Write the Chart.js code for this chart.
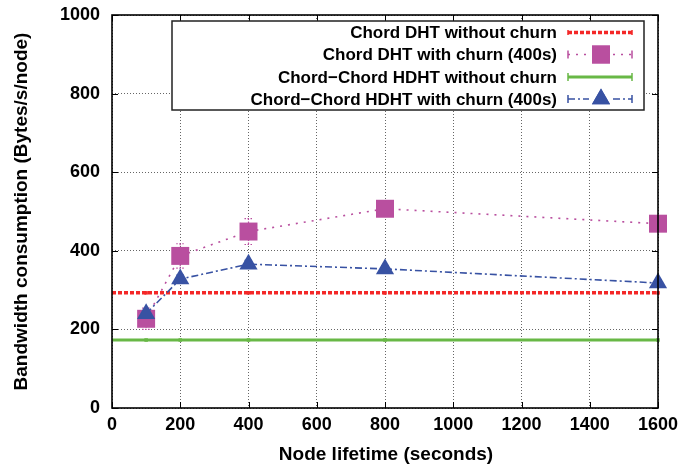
<!DOCTYPE html>
<html>
<head>
<meta charset="utf-8">
<script src="https://cdn.jsdelivr.net/npm/chart.js@4.4.0/dist/chart.umd.min.js"></script>
<style>
  html, body { margin: 0; padding: 0; background: #fff; }
  #wrap { width: 694px; height: 471px; }
</style>
</head>
<body>
<div id="wrap"><canvas id="c" width="694" height="471"></canvas></div>
<script>
// Node lifetimes (seconds) at which the simulations were run
const lifetimes = [100, 200, 400, 800, 1600];
// Steady-state consumption without churn (constant over lifetime)
const chordNoChurn = 293;
const hdhtNoChurn = 173;
// Consumption with churn, and the half-width of each error bar
const chordChurn = [227, 387, 449, 507, 469];
const chordChurnErr = [27, 31, 33, 12, 12];
const hdhtChurn = [240, 328, 366, 354, 318];
const hdhtChurnErr = [8, 10, 10, 8, 8];
// Axis ticks
const xTicks = [0, 200, 400, 600, 800, 1000, 1200, 1400, 1600];
const yTicks = [0, 200, 400, 600, 800, 1000];

const labelsText = [
  'Chord DHT without churn',
  'Chord DHT with churn (400s)',
  'Chord\u2212Chord HDHT without churn',
  'Chord\u2212Chord HDHT with churn (400s)'
];

const FONT = 'Liberation Sans, Arial, sans-serif';
const RED = '#f42828', MAG = '#b94f9f', GRN = '#68b846', BLU = '#3852a3';

// flat lines run from the y axis across every lifetime
const flatX = [0].concat(lifetimes);
const flat = v => flatX.map(x => ({ x: x, y: v }));
const flatRadius = flatX.map(x => (x === 0 ? 0 : 2.5));

const datasets = [
  {
    label: labelsText[3], order: 0, clip: false,
    data: lifetimes.map((x, i) => ({ x: x, y: hdhtChurn[i] })),
    err: hdhtChurnErr,
    borderColor: BLU, backgroundColor: BLU, borderWidth: 1.6,
    borderDash: [7, 3, 2, 3],
    pointStyle: 'triangle', pointRadius: 10.5, pointBorderWidth: 0,
    legendMarker: true, legendCaps: true
  },
  {
    label: labelsText[1], order: 1, clip: false,
    data: lifetimes.map((x, i) => ({ x: x, y: chordChurn[i] })),
    err: chordChurnErr,
    borderColor: MAG, backgroundColor: MAG, borderWidth: 1.6,
    borderDash: [2, 6],
    pointStyle: 'rect', pointRadius: 12.7, pointBorderWidth: 0,
    legendMarker: true, legendCaps: true
  },
  {
    label: labelsText[0], order: 2, clip: false,
    data: flat(chordNoChurn),
    borderColor: RED, backgroundColor: RED, borderWidth: 3.5,
    borderDash: [4, 2],
    pointStyle: 'rect', pointRadius: flatRadius, pointBorderWidth: 0,
    legendMarker: false, legendCaps: false
  },
  {
    label: labelsText[2], order: 3, clip: false,
    data: flat(hdhtNoChurn),
    borderColor: GRN, backgroundColor: GRN, borderWidth: 3,
    borderDash: [],
    pointStyle: 'rect', pointRadius: flatRadius, pointBorderWidth: 0,
    legendMarker: false, legendCaps: true
  }
];

// gnuplot-style frame, inward ticks, error bars, key and axis titles
const framePlugin = {
  id: 'frame',
  beforeDatasetsDraw(chart) {
    const ctx = chart.ctx, xs = chart.scales.x, ys = chart.scales.y;
    ctx.save();
    chart.data.datasets.forEach(ds => {
      if (!ds.err) return;
      ctx.strokeStyle = ds.borderColor;
      ctx.lineWidth = 1.2;
      ctx.setLineDash([1.5, 1.5]);
      ds.data.forEach((p, i) => {
        const px = xs.getPixelForValue(p.x);
        const top = ys.getPixelForValue(p.y + ds.err[i]);
        const bot = ys.getPixelForValue(p.y - ds.err[i]);
        ctx.beginPath();
        ctx.moveTo(px, top); ctx.lineTo(px, bot);
        ctx.moveTo(px - 4, top); ctx.lineTo(px + 4, top);
        ctx.moveTo(px - 4, bot); ctx.lineTo(px + 4, bot);
        ctx.stroke();
      });
    });
    ctx.restore();
  },
  afterDraw(chart) {
    const ctx = chart.ctx, a = chart.chartArea;
    const xs = chart.scales.x, ys = chart.scales.y;
    ctx.save();
    ctx.setLineDash([]);
    ctx.strokeStyle = '#000';
    ctx.lineWidth = 1;
    ctx.beginPath();
    xTicks.forEach(v => {
      const px = Math.round(xs.getPixelForValue(v)) + 0.5;
      ctx.moveTo(px, a.bottom); ctx.lineTo(px, a.bottom - 6);
      ctx.moveTo(px, a.top); ctx.lineTo(px, a.top + 6);
    });
    yTicks.forEach(v => {
      const py = Math.round(ys.getPixelForValue(v)) + 0.5;
      ctx.moveTo(a.left, py); ctx.lineTo(a.left + 6, py);
      ctx.moveTo(a.right, py); ctx.lineTo(a.right - 6, py);
    });
    ctx.stroke();
    ctx.lineWidth = 1.6;
    ctx.strokeRect(a.left, a.top, a.right - a.left, a.bottom - a.top);

    // key box
    const kx = 172, ky = 21, kw = 472, kh = 89;
    ctx.fillStyle = '#fff';
    ctx.fillRect(kx, ky, kw, kh);
    ctx.lineWidth = 1.5;
    ctx.strokeStyle = '#222';
    ctx.strokeRect(kx, ky, kw, kh);
    const rows = [32.5, 54.5, 77, 99];
    const order = [2, 1, 3, 0];
    ctx.font = 'bold 17px ' + FONT;
    ctx.textAlign = 'right';
    ctx.textBaseline = 'middle';
    const x0 = 568, x1 = 632, xm = 601;
    order.forEach((di, r) => {
      const ds = chart.data.datasets[di];
      const y = rows[r];
      ctx.fillStyle = '#000';
      ctx.fillText(ds.label, 557, y + 1);
      ctx.strokeStyle = ds.borderColor;
      ctx.lineWidth = ds.borderWidth;
      ctx.setLineDash(ds.borderDash);
      ctx.beginPath();
      if (ds.legendMarker) {
        ctx.moveTo(x0, y); ctx.lineTo(xm - 12, y);
        ctx.moveTo(xm + 12, y); ctx.lineTo(x1, y);
      } else {
        ctx.moveTo(x0, y); ctx.lineTo(x1, y);
      }
      ctx.stroke();
      ctx.setLineDash([]);
      ctx.lineWidth = 1.5;
      ctx.beginPath();
      if (ds.legendCaps) {
        ctx.moveTo(x0, y - 4); ctx.lineTo(x0, y + 4);
        ctx.moveTo(x1, y - 4); ctx.lineTo(x1, y + 4);
      } else {
        ctx.moveTo(x0, y - 2.5); ctx.lineTo(x0, y + 2.5);
        ctx.moveTo(x1, y - 2.5); ctx.lineTo(x1, y + 2.5);
      }
      ctx.stroke();
      if (ds.legendMarker) {
        ctx.fillStyle = ds.backgroundColor;
        Chart.helpers.drawPoint(ctx, {
          pointStyle: ds.pointStyle, radius: ds.pointRadius,
          rotation: 0, borderWidth: 0
        }, xm, y);
        ctx.fill();
      }
    });

    // axis titles
    ctx.fillStyle = '#000';
    ctx.font = 'bold 19px ' + FONT;
    ctx.textAlign = 'center';
    ctx.textBaseline = 'middle';
    ctx.fillText('Node lifetime (seconds)', (a.left + a.right) / 2 + 1, 455);
    ctx.save();
    ctx.translate(22, (a.top + a.bottom) / 2);
    ctx.rotate(-Math.PI / 2);
    ctx.fillText('Bandwidth consumption (Bytes/s/node)', 0, 0);
    ctx.restore();
    ctx.restore();
  }
};

const tickFont = { family: FONT, size: 18, weight: 'bold' };

new Chart(document.getElementById('c'), {
  type: 'line',
  data: { datasets: datasets },
  options: {
    responsive: false,
    animation: false,
    events: [],
    layout: { padding: { left: 0, top: 15, right: 36, bottom: 0 } },
    plugins: { legend: { display: false }, tooltip: { enabled: false } },
    elements: { line: { tension: 0 } },
    scales: {
      x: {
        type: 'linear', min: 0, max: 1600,
        afterBuildTicks: s => { s.ticks = xTicks.map(v => ({ value: v })); },
        afterFit: s => { s.height = 63; s.paddingLeft = 0; s.paddingRight = 0; },
        grid: { color: '#666', lineWidth: 1, drawTicks: false },
        border: { display: false, dash: [1, 2] },
        ticks: { color: '#000', font: tickFont, padding: 6, maxRotation: 0, autoSkip: false,
                 callback: v => String(v) }
      },
      y: {
        type: 'linear', min: 0, max: 1000,
        afterBuildTicks: s => { s.ticks = yTicks.map(v => ({ value: v })); },
        afterFit: s => { s.width = 112; s.paddingTop = 0; s.paddingBottom = 0; },
        grid: { color: '#666', lineWidth: 1, drawTicks: false },
        border: { display: false, dash: [1, 2] },
        ticks: { color: '#000', font: tickFont, padding: 12, autoSkip: false,
                 callback: v => String(v) }
      }
    }
  },
  plugins: [framePlugin]
});
</script>
</body>
</html>
